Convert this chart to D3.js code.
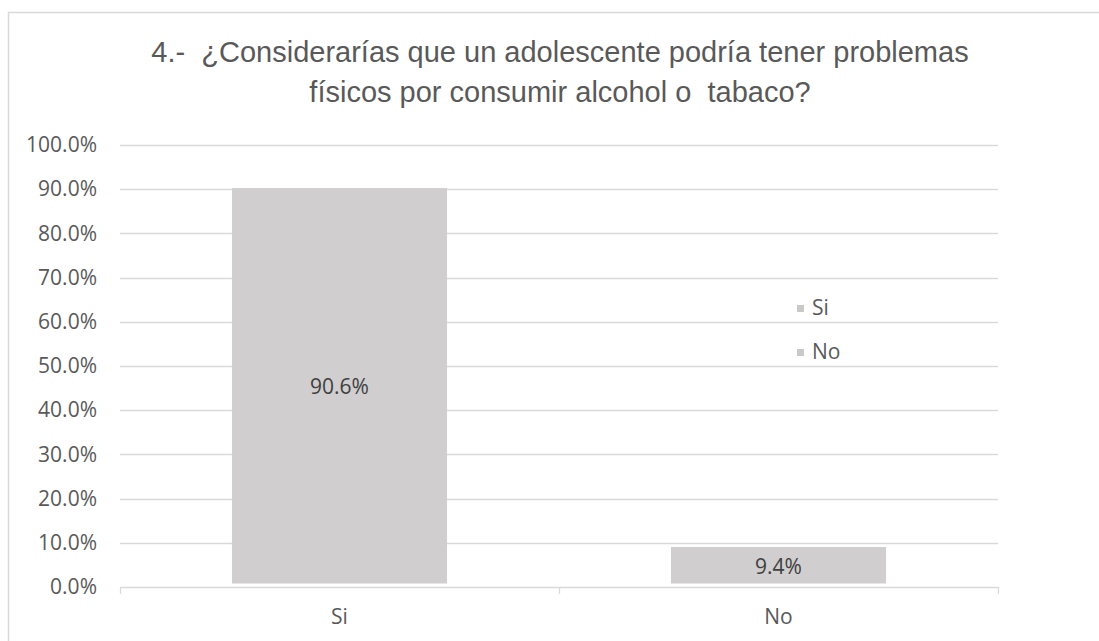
<!DOCTYPE html>
<html>
<head>
<meta charset="utf-8">
<script src="https://cdn.jsdelivr.net/npm/d3@7"></script>
<style>
  body { margin: 0; background: #fff; }
  svg text { fill: #595959; }
</style>
</head>
<body>
<svg id="chart" width="1099" height="641"></svg>
<script>
// data
var categories = ['Si', 'No'];
var values = [0.906, 0.094];
var ticks = [0, 0.1, 0.2, 0.3, 0.4, 0.5, 0.6, 0.7, 0.8, 0.9, 1.0];
var titleLines = ['4.-  \u00bfConsiderar\u00edas que un adolescente podr\u00eda tener problemas',
                  'f\u00edsicos por consumir alcohol o  tabaco?'];

var margin = {top: 145, right: 101, bottom: 54, left: 120},
    width = 1099 - margin.left - margin.right,
    height = 641 - margin.top - margin.bottom;

var labelFont = '"Open Sans", sans-serif',
    labelSize = '21px';

var svg = d3.select('#chart');

// outer chart border (top and left visible)
svg.append('path')
    .attr('d', 'M8.5,641 V12.5 H1099')
    .attr('fill', 'none')
    .attr('stroke', '#d9d9d9')
    .attr('stroke-width', 1.5);

svg.selectAll('.title')
    .data(titleLines)
  .enter().append('text')
    .attr('class', 'title')
    .attr('x', 560)
    .attr('y', function(d, i) { return 62 + i * 40; })
    .attr('text-anchor', 'middle')
    .style('white-space', 'pre')
    .style('font-family', '"Liberation Sans", Arial, sans-serif')
    .style('font-size', '29px')
    .text(function(d) { return d; });

var x = d3.scaleBand().domain(categories).range([0, width]),
    y = d3.scaleLinear().domain([0, 1]).range([height, 0]);
var barW = x.bandwidth() * 0.49;

var g = svg.append('g')
    .attr('transform', 'translate(' + margin.left + ',' + margin.top + ')');

// gridlines
g.selectAll('.grid')
    .data(ticks.slice(1))
  .enter().append('line')
    .attr('x1', 0).attr('x2', width)
    .attr('y1', function(d) { return Math.round(y(d)) + 0.5; })
    .attr('y2', function(d) { return Math.round(y(d)) + 0.5; })
    .attr('stroke', '#d9d9d9')
    .attr('stroke-width', 1.3);

// y axis labels
g.append('g')
    .call(d3.axisLeft(y).tickValues(ticks).tickFormat(d3.format('.1%')).tickSize(0).tickPadding(23))
    .call(function(a) { a.select('.domain').remove(); })
    .selectAll('text')
    .style('font-family', labelFont)
    .style('font-size', labelSize)
    .attr('fill', '#595959');

// bars (excel leaves a small gap above the axis line)
g.selectAll('.bar')
    .data(values)
  .enter().append('rect')
    .attr('class', 'bar')
    .attr('x', function(d, i) { return x(categories[i]) + (x.bandwidth() - barW) / 2; })
    .attr('y', function(d) { return y(d) + 1.5; })
    .attr('width', barW)
    .attr('height', function(d) { return height - y(d) - 5; })
    .attr('fill', '#d0cece');

// value labels
g.selectAll('.val')
    .data(values)
  .enter().append('text')
    .attr('x', function(d, i) { return x(categories[i]) + x.bandwidth() / 2; })
    .attr('y', function(d) { return (y(d) + height) / 2; })
    .attr('dy', '0.35em')
    .attr('text-anchor', 'middle')
    .style('font-family', labelFont)
    .style('font-size', labelSize)
    .style('fill', '#404040')
    .text(function(d) { return d3.format('.1%')(d); });

// x axis
var xAxis = g.append('g')
    .attr('transform', 'translate(0,' + height + ')');
xAxis.append('line')
    .attr('x1', 0).attr('x2', width)
    .attr('y1', 0.5).attr('y2', 0.5)
    .attr('stroke', '#d9d9d9').attr('stroke-width', 1.3);
xAxis.selectAll('.tk')
    .data([0].concat(categories.map(function(c) { return x(c) + x.bandwidth(); })))
  .enter().append('line')
    .attr('x1', function(d) { return d + 0.5; }).attr('x2', function(d) { return d + 0.5; })
    .attr('y1', 0).attr('y2', 7)
    .attr('stroke', '#d9d9d9').attr('stroke-width', 1.3);
xAxis.selectAll('.cat')
    .data(categories)
  .enter().append('text')
    .attr('x', function(d) { return x(d) + x.bandwidth() / 2; })
    .attr('y', 37)
    .attr('text-anchor', 'middle')
    .style('font-family', labelFont)
    .style('font-size', labelSize)
    .text(function(d) { return d; });

// legend
var legend = svg.selectAll('.legend')
    .data(categories)
  .enter().append('g')
    .attr('transform', function(d, i) { return 'translate(797,' + (308 + i * 44) + ')'; });
legend.append('rect')
    .attr('x', 0).attr('y', -3)
    .attr('width', 7).attr('height', 7)
    .attr('fill', '#c9c9c9');
legend.append('text')
    .attr('x', 15)
    .attr('dy', '0.35em')
    .style('font-family', labelFont)
    .style('font-size', labelSize)
    .text(function(d) { return d; });
</script>
</body>
</html>
